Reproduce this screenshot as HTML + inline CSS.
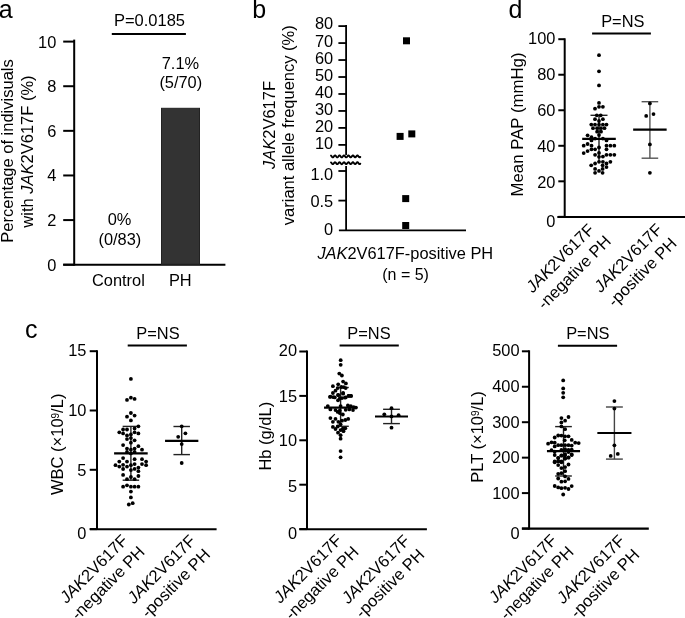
<!DOCTYPE html>
<html><head><meta charset="utf-8"><style>
html,body{margin:0;padding:0;background:#fff;}
svg{display:block;will-change:transform;}
text{font-family:"Liberation Sans",sans-serif;fill:#000;}
</style></head><body>
<svg width="685" height="618" viewBox="0 0 685 618">
<rect width="685" height="618" fill="#fff"/>
<text x="-1.30" y="17.70" font-size="25" text-anchor="start" >a</text>
<line x1="74.20" y1="39.60" x2="74.20" y2="265.70" stroke="#000" stroke-width="2"/>
<line x1="63.20" y1="41.60" x2="74.20" y2="41.60" stroke="#000" stroke-width="2"/>
<line x1="63.20" y1="86.22" x2="74.20" y2="86.22" stroke="#000" stroke-width="2"/>
<line x1="63.20" y1="130.84" x2="74.20" y2="130.84" stroke="#000" stroke-width="2"/>
<line x1="63.20" y1="175.46" x2="74.20" y2="175.46" stroke="#000" stroke-width="2"/>
<line x1="63.20" y1="220.08" x2="74.20" y2="220.08" stroke="#000" stroke-width="2"/>
<line x1="63.20" y1="264.70" x2="74.20" y2="264.70" stroke="#000" stroke-width="2"/>
<line x1="63.20" y1="264.70" x2="225.40" y2="264.70" stroke="#000" stroke-width="2"/>
<rect x="161.5" y="108.3" width="38" height="156" fill="#333" stroke="#222" stroke-width="1"/>
<text x="56.30" y="47.60" font-size="16.4" text-anchor="end" >10</text>
<text x="56.30" y="92.22" font-size="16.4" text-anchor="end" >8</text>
<text x="56.30" y="136.84" font-size="16.4" text-anchor="end" >6</text>
<text x="56.30" y="181.46" font-size="16.4" text-anchor="end" >4</text>
<text x="56.30" y="226.08" font-size="16.4" text-anchor="end" >2</text>
<text x="56.30" y="270.70" font-size="16.4" text-anchor="end" >0</text>
<text x="149.50" y="25.80" font-size="16.5" text-anchor="middle" >P=0.0185</text>
<line x1="111.80" y1="34.00" x2="185.90" y2="34.00" stroke="#000" stroke-width="2"/>
<text x="180.40" y="68.60" font-size="16.4" text-anchor="middle" >7.1%</text>
<text x="180.80" y="88.00" font-size="16.4" text-anchor="middle" >(5/70)</text>
<text x="119.50" y="225.00" font-size="16.4" text-anchor="middle" >0%</text>
<text x="119.90" y="245.20" font-size="16.4" text-anchor="middle" >(0/83)</text>
<text x="118.40" y="285.70" font-size="16.4" text-anchor="middle" >Control</text>
<text x="180.30" y="285.70" font-size="16.4" text-anchor="middle" >PH</text>
<text transform="translate(13.40,151.00) rotate(-90)" font-size="16.5" text-anchor="middle" >Percentage of indivisuals</text>
<text transform="translate(33.10,151.50) rotate(-90)" font-size="16.5" text-anchor="middle" >with <tspan font-style="italic">JAK</tspan>2V617F (%)</text>
<text x="252.20" y="17.50" font-size="25" text-anchor="start" >b</text>
<line x1="346.10" y1="25.10" x2="346.10" y2="155.00" stroke="#000" stroke-width="1.8"/>
<line x1="338.40" y1="26.10" x2="346.10" y2="26.10" stroke="#000" stroke-width="1.8"/>
<line x1="338.40" y1="43.07" x2="346.10" y2="43.07" stroke="#000" stroke-width="1.8"/>
<line x1="338.40" y1="60.04" x2="346.10" y2="60.04" stroke="#000" stroke-width="1.8"/>
<line x1="338.40" y1="77.01" x2="346.10" y2="77.01" stroke="#000" stroke-width="1.8"/>
<line x1="338.40" y1="93.98" x2="346.10" y2="93.98" stroke="#000" stroke-width="1.8"/>
<line x1="338.40" y1="110.95" x2="346.10" y2="110.95" stroke="#000" stroke-width="1.8"/>
<line x1="338.40" y1="127.92" x2="346.10" y2="127.92" stroke="#000" stroke-width="1.8"/>
<line x1="338.40" y1="144.89" x2="346.10" y2="144.89" stroke="#000" stroke-width="1.8"/>
<line x1="346.10" y1="165.90" x2="346.10" y2="230.40" stroke="#000" stroke-width="1.8"/>
<line x1="338.40" y1="171.00" x2="346.10" y2="171.00" stroke="#000" stroke-width="1.8"/>
<line x1="338.40" y1="200.60" x2="346.10" y2="200.60" stroke="#000" stroke-width="1.8"/>
<line x1="338.90" y1="230.40" x2="466.00" y2="230.40" stroke="#000" stroke-width="1.8"/>
<text x="333.20" y="29.40" font-size="16.4" text-anchor="end" >80</text>
<text x="333.20" y="46.52" font-size="16.4" text-anchor="end" >70</text>
<text x="333.20" y="63.64" font-size="16.4" text-anchor="end" >60</text>
<text x="333.20" y="80.76" font-size="16.4" text-anchor="end" >50</text>
<text x="333.20" y="97.98" font-size="16.4" text-anchor="end" >40</text>
<text x="333.20" y="115.15" font-size="16.4" text-anchor="end" >30</text>
<text x="333.20" y="132.12" font-size="16.4" text-anchor="end" >20</text>
<text x="333.20" y="149.19" font-size="16.4" text-anchor="end" >10</text>
<text x="333.20" y="179.50" font-size="16.4" text-anchor="end" >1.0</text>
<text x="333.20" y="207.05" font-size="16.4" text-anchor="end" >0.5</text>
<text x="333.20" y="234.60" font-size="16.4" text-anchor="end" >0</text>
<polyline points="331.00,155.62 331.25,155.86 331.50,156.16 331.75,156.49 332.00,156.81 332.25,157.08 332.50,157.27 332.75,157.35 333.00,157.31 333.25,157.16 333.50,156.92 333.75,156.62 334.01,156.28 334.26,155.97 334.51,155.70 334.76,155.52 335.01,155.45 335.26,155.50 335.51,155.65 335.76,155.90 336.01,156.21 336.26,156.54 336.51,156.86 336.76,157.12 337.01,157.29 337.26,157.35 337.51,157.30 337.76,157.13 338.01,156.88 338.26,156.57 338.51,156.23 338.76,155.92 339.01,155.67 339.26,155.50 339.51,155.45 339.76,155.51 340.02,155.68 340.27,155.94 340.52,156.26 340.77,156.59 341.02,156.90 341.27,157.15 341.52,157.30 341.77,157.35 342.02,157.28 342.27,157.10 342.52,156.83 342.77,156.52 343.02,156.18 343.27,155.88 343.52,155.64 343.77,155.49 344.02,155.45 344.27,155.53 344.52,155.72 344.77,155.99 345.02,156.31 345.27,156.64 345.52,156.94 345.78,157.18 346.03,157.32 346.28,157.35 346.53,157.26 346.78,157.06 347.03,156.79 347.28,156.47 347.53,156.14 347.78,155.84 348.03,155.61 348.28,155.48 348.53,155.46 348.78,155.55 349.03,155.75 349.28,156.03 349.53,156.36 349.78,156.69 350.03,156.98 350.28,157.21 350.53,157.33 350.78,157.34 351.03,157.23 351.28,157.03 351.54,156.74 351.79,156.42 352.04,156.09 352.29,155.80 352.54,155.58 352.79,155.47 353.04,155.46 353.29,155.58 353.54,155.79 353.79,156.08 354.04,156.41 354.29,156.74 354.54,157.02 354.79,157.23 355.04,157.34 355.29,157.33 355.54,157.21 355.79,156.99 356.04,156.70 356.29,156.37 356.54,156.04 356.79,155.76 357.04,155.56 357.29,155.46 357.55,155.47 357.80,155.60 358.05,155.83 358.30,156.13 358.55,156.46 358.80,156.78 359.05,157.06 359.30,157.25 359.55,157.35 359.80,157.32 360.05,157.18 360.30,156.95" fill="none" stroke="#000" stroke-width="1.9" stroke-linecap="round"/>
<polyline points="331.00,162.42 331.25,162.66 331.50,162.96 331.75,163.29 332.00,163.61 332.25,163.88 332.50,164.07 332.75,164.15 333.00,164.11 333.25,163.96 333.50,163.72 333.75,163.42 334.01,163.08 334.26,162.77 334.51,162.50 334.76,162.32 335.01,162.25 335.26,162.30 335.51,162.45 335.76,162.70 336.01,163.01 336.26,163.34 336.51,163.66 336.76,163.92 337.01,164.09 337.26,164.15 337.51,164.10 337.76,163.93 338.01,163.68 338.26,163.37 338.51,163.03 338.76,162.72 339.01,162.47 339.26,162.30 339.51,162.25 339.76,162.31 340.02,162.48 340.27,162.74 340.52,163.06 340.77,163.39 341.02,163.70 341.27,163.95 341.52,164.10 341.77,164.15 342.02,164.08 342.27,163.90 342.52,163.63 342.77,163.32 343.02,162.98 343.27,162.68 343.52,162.44 343.77,162.29 344.02,162.25 344.27,162.33 344.52,162.52 344.77,162.79 345.02,163.11 345.27,163.44 345.52,163.74 345.78,163.98 346.03,164.12 346.28,164.15 346.53,164.06 346.78,163.86 347.03,163.59 347.28,163.27 347.53,162.94 347.78,162.64 348.03,162.41 348.28,162.28 348.53,162.26 348.78,162.35 349.03,162.55 349.28,162.83 349.53,163.16 349.78,163.49 350.03,163.78 350.28,164.01 350.53,164.13 350.78,164.14 351.03,164.03 351.28,163.83 351.54,163.54 351.79,163.22 352.04,162.89 352.29,162.60 352.54,162.38 352.79,162.27 353.04,162.26 353.29,162.38 353.54,162.59 353.79,162.88 354.04,163.21 354.29,163.54 354.54,163.82 354.79,164.03 355.04,164.14 355.29,164.13 355.54,164.01 355.79,163.79 356.04,163.50 356.29,163.17 356.54,162.84 356.79,162.56 357.04,162.36 357.29,162.26 357.55,162.27 357.80,162.40 358.05,162.63 358.30,162.93 358.55,163.26 358.80,163.58 359.05,163.86 359.30,164.05 359.55,164.15 359.80,164.12 360.05,163.98 360.30,163.75" fill="none" stroke="#000" stroke-width="1.9" stroke-linecap="round"/>
<rect x="403.00" y="37.30" width="7" height="7"/>
<rect x="396.60" y="132.90" width="7" height="7"/>
<rect x="408.30" y="130.40" width="7" height="7"/>
<rect x="402.20" y="195.10" width="7" height="7"/>
<rect x="402.20" y="222.00" width="7" height="7"/>
<text transform="translate(275.20,125.00) rotate(-90)" font-size="16.5" text-anchor="middle" ><tspan font-style="italic">JAK</tspan>2V617F</text>
<text transform="translate(294.30,125.20) rotate(-90)" font-size="16.5" text-anchor="middle" >variant allele frequency (%)</text>
<text x="405.30" y="259.20" font-size="16.4" text-anchor="middle" ><tspan font-style="italic">JAK</tspan>2V617F-positive PH</text>
<text x="405.60" y="280.00" font-size="16" text-anchor="middle" >(n = 5)</text>
<text x="508.40" y="17.50" font-size="25" text-anchor="start" >d</text>
<line x1="564.70" y1="38.30" x2="564.70" y2="217.90" stroke="#000" stroke-width="2"/>
<line x1="558.30" y1="39.20" x2="564.70" y2="39.20" stroke="#000" stroke-width="2"/>
<line x1="558.30" y1="74.73" x2="564.70" y2="74.73" stroke="#000" stroke-width="2"/>
<line x1="558.30" y1="110.26" x2="564.70" y2="110.26" stroke="#000" stroke-width="2"/>
<line x1="558.30" y1="145.79" x2="564.70" y2="145.79" stroke="#000" stroke-width="2"/>
<line x1="558.30" y1="181.32" x2="564.70" y2="181.32" stroke="#000" stroke-width="2"/>
<line x1="558.30" y1="216.85" x2="564.70" y2="216.85" stroke="#000" stroke-width="2"/>
<line x1="557.30" y1="216.90" x2="685.00" y2="216.90" stroke="#000" stroke-width="2"/>
<text x="555.40" y="43.60" font-size="16.4" text-anchor="end" >100</text>
<text x="555.40" y="80.45" font-size="16.4" text-anchor="end" >80</text>
<text x="555.40" y="116.00" font-size="16.4" text-anchor="end" >60</text>
<text x="555.40" y="152.35" font-size="16.4" text-anchor="end" >40</text>
<text x="555.40" y="187.85" font-size="16.4" text-anchor="end" >20</text>
<text x="555.40" y="226.70" font-size="16.4" text-anchor="end" >0</text>
<text x="622.80" y="26.50" font-size="16.4" text-anchor="middle" >P=NS</text>
<line x1="592.10" y1="33.60" x2="650.90" y2="33.60" stroke="#000" stroke-width="2"/>
<text transform="translate(522.90,124.50) rotate(-90)" font-size="16.8" text-anchor="middle" >Mean PAP (mmHg)</text>
<line x1="599.00" y1="115.30" x2="599.00" y2="162.00" stroke="#222" stroke-width="1.4"/>
<line x1="590.50" y1="115.30" x2="607.50" y2="115.30" stroke="#222" stroke-width="1.4"/>
<circle cx="599.00" cy="55.20" r="1.9"/>
<circle cx="599.00" cy="71.30" r="1.9"/>
<circle cx="599.00" cy="85.40" r="1.9"/>
<circle cx="599.00" cy="102.90" r="1.9"/>
<circle cx="602.90" cy="106.80" r="1.9"/>
<circle cx="599.00" cy="106.80" r="1.9"/>
<circle cx="595.00" cy="108.70" r="1.9"/>
<circle cx="596.80" cy="115.30" r="1.9"/>
<circle cx="600.70" cy="115.30" r="1.9"/>
<circle cx="595.00" cy="119.20" r="1.9"/>
<circle cx="602.90" cy="119.20" r="1.9"/>
<circle cx="599.00" cy="121.00" r="1.9"/>
<circle cx="591.30" cy="124.60" r="1.9"/>
<circle cx="595.00" cy="124.60" r="1.9"/>
<circle cx="599.00" cy="124.60" r="1.9"/>
<circle cx="602.90" cy="124.60" r="1.9"/>
<circle cx="606.50" cy="124.60" r="1.9"/>
<circle cx="593.00" cy="128.20" r="1.9"/>
<circle cx="597.10" cy="128.20" r="1.9"/>
<circle cx="601.00" cy="128.20" r="1.9"/>
<circle cx="604.50" cy="128.20" r="1.9"/>
<circle cx="597.10" cy="131.70" r="1.9"/>
<circle cx="601.00" cy="131.70" r="1.9"/>
<circle cx="587.60" cy="135.30" r="1.9"/>
<circle cx="599.00" cy="135.10" r="1.9"/>
<circle cx="591.50" cy="137.20" r="1.9"/>
<circle cx="591.50" cy="140.40" r="1.9"/>
<circle cx="595.10" cy="138.60" r="1.9"/>
<circle cx="602.90" cy="138.60" r="1.9"/>
<circle cx="606.50" cy="140.40" r="1.9"/>
<circle cx="583.70" cy="145.70" r="1.9"/>
<circle cx="587.60" cy="144.00" r="1.9"/>
<circle cx="591.50" cy="145.70" r="1.9"/>
<circle cx="591.50" cy="149.30" r="1.9"/>
<circle cx="595.10" cy="149.30" r="1.9"/>
<circle cx="599.00" cy="147.50" r="1.9"/>
<circle cx="606.50" cy="145.70" r="1.9"/>
<circle cx="610.40" cy="145.70" r="1.9"/>
<circle cx="614.30" cy="145.70" r="1.9"/>
<circle cx="606.50" cy="149.30" r="1.9"/>
<circle cx="583.70" cy="153.10" r="1.9"/>
<circle cx="587.60" cy="151.10" r="1.9"/>
<circle cx="599.00" cy="152.90" r="1.9"/>
<circle cx="595.10" cy="154.80" r="1.9"/>
<circle cx="599.00" cy="156.80" r="1.9"/>
<circle cx="602.90" cy="156.60" r="1.9"/>
<circle cx="606.50" cy="154.80" r="1.9"/>
<circle cx="610.40" cy="154.80" r="1.9"/>
<circle cx="614.30" cy="154.80" r="1.9"/>
<circle cx="599.00" cy="161.80" r="1.9"/>
<circle cx="602.90" cy="161.80" r="1.9"/>
<circle cx="595.10" cy="163.50" r="1.9"/>
<circle cx="606.50" cy="163.50" r="1.9"/>
<circle cx="610.40" cy="161.80" r="1.9"/>
<circle cx="591.20" cy="165.30" r="1.9"/>
<circle cx="602.60" cy="165.30" r="1.9"/>
<circle cx="606.50" cy="167.10" r="1.9"/>
<circle cx="595.10" cy="168.90" r="1.9"/>
<circle cx="602.60" cy="168.90" r="1.9"/>
<circle cx="599.00" cy="170.90" r="1.9"/>
<circle cx="595.10" cy="172.80" r="1.9"/>
<circle cx="602.60" cy="172.80" r="1.9"/>
<line x1="582.20" y1="138.90" x2="615.80" y2="138.90" stroke="#000" stroke-width="2.2"/>
<line x1="649.90" y1="101.70" x2="649.90" y2="158.20" stroke="#555" stroke-width="1.4"/>
<line x1="641.60" y1="101.70" x2="658.20" y2="101.70" stroke="#555" stroke-width="1.4"/>
<line x1="641.60" y1="158.20" x2="658.20" y2="158.20" stroke="#555" stroke-width="1.4"/>
<circle cx="649.90" cy="103.40" r="1.9"/>
<circle cx="646.20" cy="115.90" r="1.9"/>
<circle cx="653.50" cy="114.10" r="1.9"/>
<circle cx="649.90" cy="144.40" r="1.9"/>
<circle cx="649.90" cy="172.80" r="1.9"/>
<line x1="633.15" y1="129.70" x2="666.65" y2="129.70" stroke="#000" stroke-width="2.2"/>
<text transform="translate(564.00,262.10) rotate(-45)" font-size="16.6" text-anchor="middle" ><tspan font-style="italic">JAK</tspan>2V617F</text>
<text transform="translate(578.14,276.24) rotate(-45)" font-size="16.6" text-anchor="middle" >-negative PH</text>
<text transform="translate(632.00,261.90) rotate(-45)" font-size="16.6" text-anchor="middle" ><tspan font-style="italic">JAK</tspan>2V617F</text>
<text transform="translate(646.14,276.04) rotate(-45)" font-size="16.6" text-anchor="middle" >-positive PH</text>
<text x="25.00" y="337.50" font-size="25" text-anchor="start" >c</text>
<line x1="97.00" y1="350.20" x2="97.00" y2="530.10" stroke="#000" stroke-width="2"/>
<line x1="89.70" y1="351.20" x2="97.00" y2="351.20" stroke="#000" stroke-width="2"/>
<line x1="89.70" y1="410.50" x2="97.00" y2="410.50" stroke="#000" stroke-width="2"/>
<line x1="89.70" y1="469.80" x2="97.00" y2="469.80" stroke="#000" stroke-width="2"/>
<line x1="89.70" y1="529.10" x2="97.00" y2="529.10" stroke="#000" stroke-width="2"/>
<line x1="89.80" y1="529.20" x2="216.60" y2="529.20" stroke="#000" stroke-width="2.1"/>
<text x="86.40" y="356.00" font-size="16.4" text-anchor="end" >15</text>
<text x="86.40" y="416.20" font-size="16.4" text-anchor="end" >10</text>
<text x="86.40" y="475.70" font-size="16.4" text-anchor="end" >5</text>
<text x="86.40" y="538.90" font-size="16.4" text-anchor="end" >0</text>
<text x="158.00" y="338.50" font-size="16.4" text-anchor="middle" >P=NS</text>
<line x1="127.70" y1="345.40" x2="186.90" y2="345.40" stroke="#000" stroke-width="2"/>
<text transform="translate(63.10,444.30) rotate(-90)" font-size="16.5" text-anchor="middle" >WBC (×10<tspan font-size="10" dy="-4.3">9</tspan><tspan dy="4.3">/L)</tspan></text>
<line x1="130.90" y1="426.40" x2="130.90" y2="480.20" stroke="#222" stroke-width="1.4"/>
<line x1="122.65" y1="426.40" x2="139.15" y2="426.40" stroke="#222" stroke-width="1.4"/>
<line x1="122.65" y1="480.20" x2="139.15" y2="480.20" stroke="#222" stroke-width="1.4"/>
<circle cx="130.90" cy="378.90" r="1.9"/>
<circle cx="130.90" cy="397.70" r="1.9"/>
<circle cx="127.00" cy="399.90" r="1.9"/>
<circle cx="134.60" cy="398.90" r="1.9"/>
<circle cx="130.90" cy="413.00" r="1.9"/>
<circle cx="134.60" cy="415.60" r="1.9"/>
<circle cx="127.00" cy="416.70" r="1.9"/>
<circle cx="130.90" cy="420.40" r="1.9"/>
<circle cx="138.40" cy="426.30" r="1.9"/>
<circle cx="123.10" cy="429.50" r="1.9"/>
<circle cx="127.00" cy="429.50" r="1.9"/>
<circle cx="134.60" cy="428.50" r="1.9"/>
<circle cx="119.30" cy="432.30" r="1.9"/>
<circle cx="123.10" cy="433.40" r="1.9"/>
<circle cx="134.60" cy="432.30" r="1.9"/>
<circle cx="138.40" cy="433.40" r="1.9"/>
<circle cx="127.00" cy="435.40" r="1.9"/>
<circle cx="130.90" cy="434.50" r="1.9"/>
<circle cx="127.00" cy="439.10" r="1.9"/>
<circle cx="130.90" cy="438.10" r="1.9"/>
<circle cx="134.60" cy="440.30" r="1.9"/>
<circle cx="130.90" cy="442.70" r="1.9"/>
<circle cx="123.10" cy="445.10" r="1.9"/>
<circle cx="138.40" cy="446.20" r="1.9"/>
<circle cx="127.00" cy="448.60" r="1.9"/>
<circle cx="130.90" cy="449.70" r="1.9"/>
<circle cx="134.60" cy="448.60" r="1.9"/>
<circle cx="142.00" cy="449.70" r="1.9"/>
<circle cx="127.00" cy="451.90" r="1.9"/>
<circle cx="134.60" cy="451.90" r="1.9"/>
<circle cx="130.90" cy="453.40" r="1.9"/>
<circle cx="123.10" cy="458.10" r="1.9"/>
<circle cx="134.60" cy="459.20" r="1.9"/>
<circle cx="142.00" cy="459.20" r="1.9"/>
<circle cx="119.30" cy="461.60" r="1.9"/>
<circle cx="127.00" cy="461.60" r="1.9"/>
<circle cx="146.10" cy="461.60" r="1.9"/>
<circle cx="115.50" cy="465.20" r="1.9"/>
<circle cx="123.10" cy="464.80" r="1.9"/>
<circle cx="130.90" cy="465.20" r="1.9"/>
<circle cx="134.60" cy="464.10" r="1.9"/>
<circle cx="142.00" cy="464.10" r="1.9"/>
<circle cx="146.10" cy="465.20" r="1.9"/>
<circle cx="119.30" cy="466.60" r="1.9"/>
<circle cx="127.00" cy="466.60" r="1.9"/>
<circle cx="123.10" cy="469.00" r="1.9"/>
<circle cx="134.60" cy="468.90" r="1.9"/>
<circle cx="138.40" cy="467.60" r="1.9"/>
<circle cx="130.90" cy="470.10" r="1.9"/>
<circle cx="138.40" cy="471.20" r="1.9"/>
<circle cx="123.10" cy="474.90" r="1.9"/>
<circle cx="138.40" cy="476.00" r="1.9"/>
<circle cx="130.90" cy="477.00" r="1.9"/>
<circle cx="127.00" cy="479.20" r="1.9"/>
<circle cx="134.60" cy="479.20" r="1.9"/>
<circle cx="123.10" cy="486.70" r="1.9"/>
<circle cx="127.00" cy="485.30" r="1.9"/>
<circle cx="130.90" cy="486.70" r="1.9"/>
<circle cx="134.60" cy="486.70" r="1.9"/>
<circle cx="138.40" cy="486.70" r="1.9"/>
<circle cx="130.90" cy="491.60" r="1.9"/>
<circle cx="130.90" cy="497.40" r="1.9"/>
<circle cx="128.80" cy="504.50" r="1.9"/>
<circle cx="132.70" cy="503.20" r="1.9"/>
<line x1="114.10" y1="453.30" x2="147.70" y2="453.30" stroke="#000" stroke-width="2.2"/>
<line x1="181.70" y1="426.50" x2="181.70" y2="454.60" stroke="#222" stroke-width="1.4"/>
<line x1="173.45" y1="426.50" x2="189.95" y2="426.50" stroke="#222" stroke-width="1.4"/>
<line x1="173.45" y1="454.60" x2="189.95" y2="454.60" stroke="#222" stroke-width="1.4"/>
<circle cx="181.70" cy="426.30" r="1.9"/>
<circle cx="185.40" cy="433.30" r="1.9"/>
<circle cx="178.20" cy="436.80" r="1.9"/>
<circle cx="181.70" cy="444.10" r="1.9"/>
<circle cx="181.70" cy="463.00" r="1.9"/>
<line x1="165.05" y1="440.80" x2="198.35" y2="440.80" stroke="#000" stroke-width="2.2"/>
<text transform="translate(97.70,572.80) rotate(-45)" font-size="16.6" text-anchor="middle" ><tspan font-style="italic">JAK</tspan>2V617F</text>
<text transform="translate(111.84,586.94) rotate(-45)" font-size="16.6" text-anchor="middle" >-negative PH</text>
<text transform="translate(165.40,573.10) rotate(-45)" font-size="16.6" text-anchor="middle" ><tspan font-style="italic">JAK</tspan>2V617F</text>
<text transform="translate(179.54,587.24) rotate(-45)" font-size="16.6" text-anchor="middle" >-positive PH</text>
<line x1="307.00" y1="350.50" x2="307.00" y2="530.10" stroke="#000" stroke-width="2"/>
<line x1="299.30" y1="351.50" x2="307.00" y2="351.50" stroke="#000" stroke-width="2"/>
<line x1="299.30" y1="395.90" x2="307.00" y2="395.90" stroke="#000" stroke-width="2"/>
<line x1="299.30" y1="440.30" x2="307.00" y2="440.30" stroke="#000" stroke-width="2"/>
<line x1="299.30" y1="484.70" x2="307.00" y2="484.70" stroke="#000" stroke-width="2"/>
<line x1="299.30" y1="529.10" x2="307.00" y2="529.10" stroke="#000" stroke-width="2"/>
<line x1="299.40" y1="529.20" x2="426.90" y2="529.20" stroke="#000" stroke-width="2.1"/>
<text x="297.00" y="356.00" font-size="16.4" text-anchor="end" >20</text>
<text x="297.00" y="401.68" font-size="16.4" text-anchor="end" >15</text>
<text x="297.00" y="446.01" font-size="16.4" text-anchor="end" >10</text>
<text x="297.00" y="491.79" font-size="16.4" text-anchor="end" >5</text>
<text x="297.00" y="538.92" font-size="16.4" text-anchor="end" >0</text>
<text x="369.00" y="338.80" font-size="16.4" text-anchor="middle" >P=NS</text>
<line x1="339.60" y1="345.40" x2="398.80" y2="345.40" stroke="#000" stroke-width="2"/>
<text transform="translate(271.00,436.20) rotate(-90)" font-size="16.5" text-anchor="middle" >Hb (g/dL)</text>
<line x1="340.60" y1="387.50" x2="340.60" y2="426.30" stroke="#222" stroke-width="1.4"/>
<line x1="336.40" y1="387.50" x2="348.80" y2="387.50" stroke="#222" stroke-width="1.4"/>
<line x1="336.40" y1="426.30" x2="348.80" y2="426.30" stroke="#222" stroke-width="1.4"/>
<circle cx="340.70" cy="360.20" r="1.9"/>
<circle cx="340.70" cy="364.80" r="1.9"/>
<circle cx="339.30" cy="373.60" r="1.9"/>
<circle cx="341.90" cy="375.50" r="1.9"/>
<circle cx="343.10" cy="381.60" r="1.9"/>
<circle cx="345.90" cy="383.40" r="1.9"/>
<circle cx="332.90" cy="386.20" r="1.9"/>
<circle cx="338.20" cy="384.30" r="1.9"/>
<circle cx="337.70" cy="388.10" r="1.9"/>
<circle cx="341.30" cy="387.00" r="1.9"/>
<circle cx="345.70" cy="388.10" r="1.9"/>
<circle cx="335.50" cy="390.70" r="1.9"/>
<circle cx="332.90" cy="393.00" r="1.9"/>
<circle cx="343.10" cy="393.00" r="1.9"/>
<circle cx="338.00" cy="394.90" r="1.9"/>
<circle cx="330.00" cy="396.90" r="1.9"/>
<circle cx="333.30" cy="397.20" r="1.9"/>
<circle cx="348.60" cy="395.80" r="1.9"/>
<circle cx="350.80" cy="395.90" r="1.9"/>
<circle cx="339.80" cy="398.30" r="1.9"/>
<circle cx="344.90" cy="397.60" r="1.9"/>
<circle cx="330.40" cy="396.60" r="1.9"/>
<circle cx="334.80" cy="397.40" r="1.9"/>
<circle cx="338.00" cy="400.30" r="1.9"/>
<circle cx="338.40" cy="395.20" r="1.9"/>
<circle cx="343.10" cy="393.70" r="1.9"/>
<circle cx="342.00" cy="398.10" r="1.9"/>
<circle cx="345.70" cy="397.40" r="1.9"/>
<circle cx="348.60" cy="395.90" r="1.9"/>
<circle cx="351.10" cy="395.90" r="1.9"/>
<circle cx="327.80" cy="406.10" r="1.9"/>
<circle cx="330.40" cy="409.40" r="1.9"/>
<circle cx="335.50" cy="410.10" r="1.9"/>
<circle cx="340.60" cy="406.10" r="1.9"/>
<circle cx="339.80" cy="410.50" r="1.9"/>
<circle cx="337.70" cy="411.90" r="1.9"/>
<circle cx="347.90" cy="405.40" r="1.9"/>
<circle cx="350.80" cy="406.10" r="1.9"/>
<circle cx="353.70" cy="407.20" r="1.9"/>
<circle cx="355.90" cy="407.60" r="1.9"/>
<circle cx="345.70" cy="409.80" r="1.9"/>
<circle cx="349.30" cy="409.40" r="1.9"/>
<circle cx="353.00" cy="410.10" r="1.9"/>
<circle cx="342.80" cy="414.50" r="1.9"/>
<circle cx="339.80" cy="413.00" r="1.9"/>
<circle cx="330.40" cy="418.10" r="1.9"/>
<circle cx="335.50" cy="418.90" r="1.9"/>
<circle cx="332.90" cy="421.80" r="1.9"/>
<circle cx="338.40" cy="421.80" r="1.9"/>
<circle cx="342.00" cy="420.70" r="1.9"/>
<circle cx="345.30" cy="420.00" r="1.9"/>
<circle cx="348.20" cy="418.90" r="1.9"/>
<circle cx="340.60" cy="424.30" r="1.9"/>
<circle cx="332.90" cy="426.90" r="1.9"/>
<circle cx="337.70" cy="426.50" r="1.9"/>
<circle cx="335.50" cy="429.00" r="1.9"/>
<circle cx="342.80" cy="428.70" r="1.9"/>
<circle cx="345.30" cy="428.30" r="1.9"/>
<circle cx="340.60" cy="430.10" r="1.9"/>
<circle cx="343.50" cy="431.20" r="1.9"/>
<circle cx="338.00" cy="432.70" r="1.9"/>
<circle cx="340.60" cy="435.20" r="1.9"/>
<circle cx="340.60" cy="438.70" r="1.9"/>
<circle cx="340.60" cy="451.10" r="1.9"/>
<circle cx="340.60" cy="457.30" r="1.9"/>
<circle cx="343.80" cy="387.20" r="1.9"/>
<line x1="324.05" y1="407.60" x2="357.15" y2="407.60" stroke="#000" stroke-width="2.2"/>
<line x1="391.50" y1="409.30" x2="391.50" y2="423.60" stroke="#222" stroke-width="1.4"/>
<line x1="383.10" y1="409.30" x2="399.90" y2="409.30" stroke="#222" stroke-width="1.4"/>
<line x1="383.10" y1="423.60" x2="399.90" y2="423.60" stroke="#222" stroke-width="1.4"/>
<circle cx="391.50" cy="408.20" r="1.9"/>
<circle cx="384.30" cy="414.30" r="1.9"/>
<circle cx="398.60" cy="415.20" r="1.9"/>
<circle cx="391.50" cy="416.40" r="1.9"/>
<circle cx="391.50" cy="427.70" r="1.9"/>
<line x1="375.00" y1="416.50" x2="408.00" y2="416.50" stroke="#000" stroke-width="2.2"/>
<text transform="translate(311.60,572.70) rotate(-45)" font-size="16.6" text-anchor="middle" ><tspan font-style="italic">JAK</tspan>2V617F</text>
<text transform="translate(325.74,586.84) rotate(-45)" font-size="16.6" text-anchor="middle" >-negative PH</text>
<text transform="translate(379.60,573.20) rotate(-45)" font-size="16.6" text-anchor="middle" ><tspan font-style="italic">JAK</tspan>2V617F</text>
<text transform="translate(393.74,587.34) rotate(-45)" font-size="16.6" text-anchor="middle" >-positive PH</text>
<line x1="529.10" y1="350.30" x2="529.10" y2="529.50" stroke="#000" stroke-width="2"/>
<line x1="521.90" y1="351.30" x2="529.10" y2="351.30" stroke="#000" stroke-width="2"/>
<line x1="521.90" y1="386.75" x2="529.10" y2="386.75" stroke="#000" stroke-width="2"/>
<line x1="521.90" y1="422.20" x2="529.10" y2="422.20" stroke="#000" stroke-width="2"/>
<line x1="521.90" y1="457.65" x2="529.10" y2="457.65" stroke="#000" stroke-width="2"/>
<line x1="521.90" y1="493.10" x2="529.10" y2="493.10" stroke="#000" stroke-width="2"/>
<line x1="521.90" y1="528.55" x2="529.10" y2="528.55" stroke="#000" stroke-width="2"/>
<line x1="521.90" y1="528.60" x2="648.80" y2="528.60" stroke="#000" stroke-width="2.1"/>
<text x="519.60" y="355.75" font-size="16.4" text-anchor="end" >500</text>
<text x="519.60" y="391.75" font-size="16.4" text-anchor="end" >400</text>
<text x="519.60" y="428.40" font-size="16.4" text-anchor="end" >300</text>
<text x="519.60" y="463.30" font-size="16.4" text-anchor="end" >200</text>
<text x="519.60" y="499.35" font-size="16.4" text-anchor="end" >100</text>
<text x="519.60" y="538.70" font-size="16.4" text-anchor="end" >0</text>
<text x="587.80" y="338.80" font-size="16.4" text-anchor="middle" >P=NS</text>
<line x1="557.90" y1="345.80" x2="617.10" y2="345.80" stroke="#000" stroke-width="2"/>
<text transform="translate(482.80,437.00) rotate(-90)" font-size="16.5" text-anchor="middle" >PLT (×10<tspan font-size="10" dy="-4.3">9</tspan><tspan dy="4.3">/L)</tspan></text>
<line x1="563.50" y1="426.60" x2="563.50" y2="476.00" stroke="#222" stroke-width="1.4"/>
<line x1="555.15" y1="426.60" x2="571.85" y2="426.60" stroke="#222" stroke-width="1.4"/>
<line x1="555.15" y1="476.00" x2="571.85" y2="476.00" stroke="#222" stroke-width="1.4"/>
<circle cx="563.20" cy="380.40" r="1.9"/>
<circle cx="563.20" cy="388.40" r="1.9"/>
<circle cx="563.20" cy="392.80" r="1.9"/>
<circle cx="563.20" cy="397.30" r="1.9"/>
<circle cx="561.40" cy="418.10" r="1.9"/>
<circle cx="568.50" cy="417.00" r="1.9"/>
<circle cx="565.10" cy="420.70" r="1.9"/>
<circle cx="561.40" cy="422.40" r="1.9"/>
<circle cx="561.40" cy="426.40" r="1.9"/>
<circle cx="565.10" cy="429.20" r="1.9"/>
<circle cx="554.70" cy="437.50" r="1.9"/>
<circle cx="558.20" cy="435.50" r="1.9"/>
<circle cx="561.40" cy="435.60" r="1.9"/>
<circle cx="565.10" cy="436.30" r="1.9"/>
<circle cx="568.50" cy="436.30" r="1.9"/>
<circle cx="564.70" cy="440.30" r="1.9"/>
<circle cx="571.70" cy="439.90" r="1.9"/>
<circle cx="548.10" cy="443.70" r="1.9"/>
<circle cx="551.50" cy="442.30" r="1.9"/>
<circle cx="554.70" cy="442.70" r="1.9"/>
<circle cx="554.70" cy="446.40" r="1.9"/>
<circle cx="558.20" cy="445.20" r="1.9"/>
<circle cx="561.40" cy="445.20" r="1.9"/>
<circle cx="565.10" cy="445.20" r="1.9"/>
<circle cx="568.50" cy="445.20" r="1.9"/>
<circle cx="571.70" cy="445.60" r="1.9"/>
<circle cx="575.20" cy="442.70" r="1.9"/>
<circle cx="578.70" cy="443.10" r="1.9"/>
<circle cx="551.50" cy="450.20" r="1.9"/>
<circle cx="554.70" cy="451.60" r="1.9"/>
<circle cx="561.40" cy="450.00" r="1.9"/>
<circle cx="565.10" cy="449.20" r="1.9"/>
<circle cx="568.50" cy="450.00" r="1.9"/>
<circle cx="571.70" cy="449.60" r="1.9"/>
<circle cx="568.50" cy="452.00" r="1.9"/>
<circle cx="554.70" cy="455.00" r="1.9"/>
<circle cx="561.40" cy="455.70" r="1.9"/>
<circle cx="565.10" cy="454.10" r="1.9"/>
<circle cx="571.70" cy="454.50" r="1.9"/>
<circle cx="558.20" cy="458.10" r="1.9"/>
<circle cx="565.10" cy="458.50" r="1.9"/>
<circle cx="568.50" cy="457.70" r="1.9"/>
<circle cx="554.70" cy="461.40" r="1.9"/>
<circle cx="558.20" cy="461.40" r="1.9"/>
<circle cx="561.40" cy="461.40" r="1.9"/>
<circle cx="561.40" cy="455.40" r="1.9"/>
<circle cx="565.10" cy="455.40" r="1.9"/>
<circle cx="571.70" cy="455.00" r="1.9"/>
<circle cx="558.20" cy="457.80" r="1.9"/>
<circle cx="565.10" cy="458.60" r="1.9"/>
<circle cx="568.50" cy="457.40" r="1.9"/>
<circle cx="554.70" cy="462.30" r="1.9"/>
<circle cx="558.20" cy="461.10" r="1.9"/>
<circle cx="561.40" cy="462.30" r="1.9"/>
<circle cx="558.20" cy="465.10" r="1.9"/>
<circle cx="568.50" cy="464.50" r="1.9"/>
<circle cx="561.40" cy="468.10" r="1.9"/>
<circle cx="565.10" cy="467.10" r="1.9"/>
<circle cx="565.10" cy="471.20" r="1.9"/>
<circle cx="558.20" cy="473.80" r="1.9"/>
<circle cx="561.40" cy="473.20" r="1.9"/>
<circle cx="565.10" cy="476.40" r="1.9"/>
<circle cx="558.20" cy="478.50" r="1.9"/>
<circle cx="568.50" cy="478.90" r="1.9"/>
<circle cx="561.40" cy="481.70" r="1.9"/>
<circle cx="565.10" cy="481.30" r="1.9"/>
<circle cx="554.70" cy="486.00" r="1.9"/>
<circle cx="558.20" cy="487.40" r="1.9"/>
<circle cx="561.40" cy="488.20" r="1.9"/>
<circle cx="565.10" cy="487.80" r="1.9"/>
<circle cx="568.50" cy="489.00" r="1.9"/>
<circle cx="571.70" cy="486.10" r="1.9"/>
<circle cx="563.20" cy="494.50" r="1.9"/>
<line x1="546.95" y1="451.20" x2="580.05" y2="451.20" stroke="#000" stroke-width="2.2"/>
<line x1="614.40" y1="407.00" x2="614.40" y2="459.10" stroke="#444" stroke-width="1.4"/>
<line x1="605.95" y1="407.00" x2="622.85" y2="407.00" stroke="#444" stroke-width="1.4"/>
<line x1="605.95" y1="459.10" x2="622.85" y2="459.10" stroke="#444" stroke-width="1.4"/>
<circle cx="614.40" cy="401.10" r="1.9"/>
<circle cx="614.40" cy="408.60" r="1.9"/>
<circle cx="614.40" cy="445.30" r="1.9"/>
<circle cx="610.70" cy="455.90" r="1.9"/>
<circle cx="617.80" cy="453.90" r="1.9"/>
<line x1="597.35" y1="433.00" x2="631.45" y2="433.00" stroke="#000" stroke-width="2.2"/>
<text transform="translate(526.60,572.70) rotate(-45)" font-size="16.6" text-anchor="middle" ><tspan font-style="italic">JAK</tspan>2V617F</text>
<text transform="translate(540.74,586.84) rotate(-45)" font-size="16.6" text-anchor="middle" >-negative PH</text>
<text transform="translate(594.60,573.20) rotate(-45)" font-size="16.6" text-anchor="middle" ><tspan font-style="italic">JAK</tspan>2V617F</text>
<text transform="translate(608.74,587.34) rotate(-45)" font-size="16.6" text-anchor="middle" >-positive PH</text>
</svg></body></html>
